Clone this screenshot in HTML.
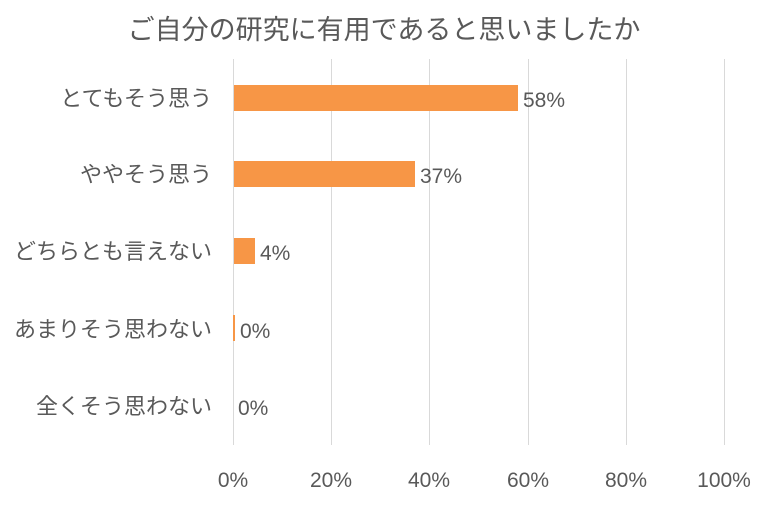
<!DOCTYPE html>
<html><head><meta charset="utf-8"><style>
html,body{margin:0;padding:0;background:#fff;}
body{width:768px;height:502px;overflow:hidden;position:relative;font-family:"Liberation Sans","Noto Sans CJK JP",sans-serif;color:#595959;}
svg text{font-family:"Liberation Sans","Noto Sans CJK JP",sans-serif;fill:#595959;}
</style></head><body>
<svg width="768" height="502" xmlns="http://www.w3.org/2000/svg">
<text x="384" y="39" font-size="27" text-anchor="middle">ご自分の研究に有用であると思いましたか</text>
<g stroke="#D9D9D9" stroke-width="1">
<line x1="233.5" y1="59" x2="233.5" y2="445"/>
<line x1="331.5" y1="59" x2="331.5" y2="445"/>
<line x1="429.5" y1="59" x2="429.5" y2="445"/>
<line x1="528.5" y1="59" x2="528.5" y2="445"/>
<line x1="626.5" y1="59" x2="626.5" y2="445"/>
<line x1="724.5" y1="59" x2="724.5" y2="445"/>
</g>
<g fill="#F79646">
<rect x="234" y="85" width="284" height="26"/>
<rect x="234" y="161" width="181" height="26"/>
<rect x="234" y="238" width="21" height="26"/>
<rect x="233" y="315" width="2" height="26"/>
</g>
<g font-size="21">
<text x="523" y="107">58%</text>
<text x="420" y="183">37%</text>
<text x="260" y="260">4%</text>
<text x="240" y="338">0%</text>
<text x="238" y="415">0%</text>
</g>
<g font-size="22" text-anchor="end">
<text x="212" y="106">とてもそう思う</text>
<text x="212" y="182">ややそう思う</text>
<text x="212" y="259">どちらとも言えない</text>
<text x="212" y="337">あまりそう思わない</text>
<text x="212" y="414">全くそう思わない</text>
</g>
<g font-size="21" text-anchor="middle">
<text x="233" y="487">0%</text>
<text x="331" y="487">20%</text>
<text x="429" y="487">40%</text>
<text x="528" y="487">60%</text>
<text x="626" y="487">80%</text>
<text x="724" y="487">100%</text>
</g>
</svg>
</body></html>
